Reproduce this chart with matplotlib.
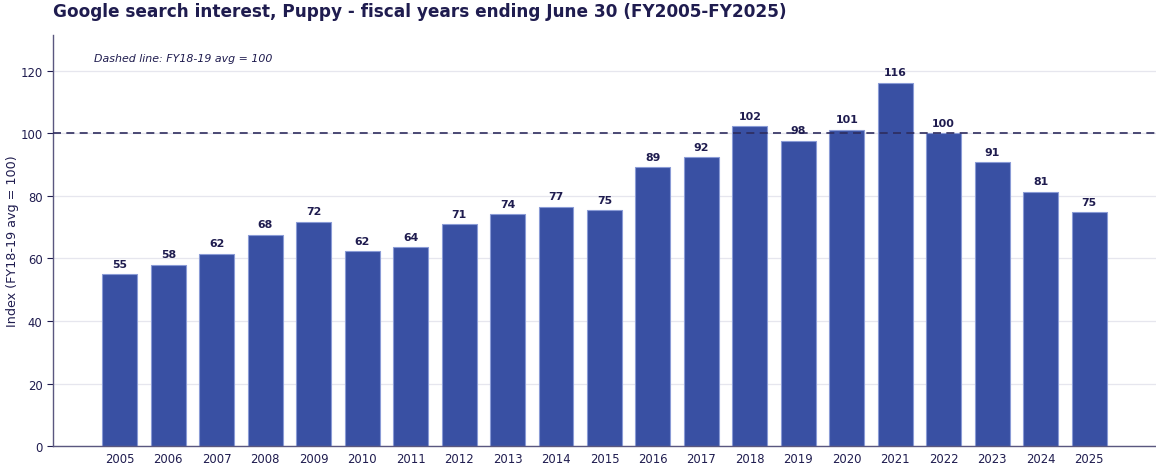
import matplotlib
matplotlib.use("Agg")
import matplotlib.pyplot as plt

# Fiscal years (ending June 30) and the search-interest index, FY18-19 avg = 100
years = [2005, 2006, 2007, 2008, 2009, 2010, 2011, 2012, 2013, 2014, 2015,
         2016, 2017, 2018, 2019, 2020, 2021, 2022, 2023, 2024, 2025]
index_values = [55.0, 57.9, 61.5, 67.6, 71.8, 62.3, 63.6, 71.0, 74.2, 76.6, 75.4,
                89.2, 92.4, 102.3, 97.6, 101.2, 116.3, 100.1, 90.8, 81.3, 74.8]
baseline = 100
y_ticks = [0, 20, 40, 60, 80, 100, 120]

NAVY = "#1f1c4f"
BAR = "#3950a3"
EDGE = "#8a9bd6"

fig = plt.figure(figsize=(11.56, 4.64), dpi=100)
ax = fig.add_axes([0.0458, 0.0366, 0.9542, 0.8858])

positions = list(range(len(years)))
ax.bar(positions, index_values, width=0.72, color=BAR, edgecolor=EDGE,
       linewidth=0.8, zorder=2)

for x, v in zip(positions, index_values):
    ax.annotate(f"{v:.0f}", (x, v), xytext=(0, 4), textcoords="offset points",
                ha="center", va="bottom", fontsize=7.9, fontweight="bold",
                color=NAVY, zorder=4)

ax.axhline(baseline, color="#2e2c5e", linestyle=(0, (4.8, 3.2)), linewidth=1.2,
           zorder=3)

ax.set_xlim(-1.38, len(years) - 1 + 1.38)
ax.set_ylim(0, 131.5)
ax.set_xticks(positions)
ax.set_xticklabels([str(y) for y in years])
ax.set_yticks(y_ticks)
ax.tick_params(axis="both", colors=NAVY, labelsize=8.4, length=4)
ax.tick_params(axis="x", length=0, pad=4)

ax.grid(axis="y", color="#e6e6ee", linewidth=0.9, zorder=0)
ax.set_axisbelow(True)

for side in ("top", "right"):
    ax.spines[side].set_visible(False)
for side in ("left", "bottom"):
    ax.spines[side].set_color("#5a577f")
    ax.spines[side].set_linewidth(1.0)

ax.set_ylabel("Index (FY18-19 avg = 100)", color=NAVY, fontsize=9.2)
ax.yaxis.set_label_coords(-0.031, 0.5)

ax.text(0.037, 0.944, "Dashed line: FY18-19 avg = 100", transform=ax.transAxes,
        fontsize=7.9, fontstyle="italic", color=NAVY, ha="left", va="center")

fig.text(0.0458, 0.974, "Google search interest, Puppy - fiscal years ending June 30 (FY2005-FY2025)",
         fontsize=12.2, fontweight="bold", color=NAVY, ha="left", va="center")

fig.savefig("out.png", dpi=100)
